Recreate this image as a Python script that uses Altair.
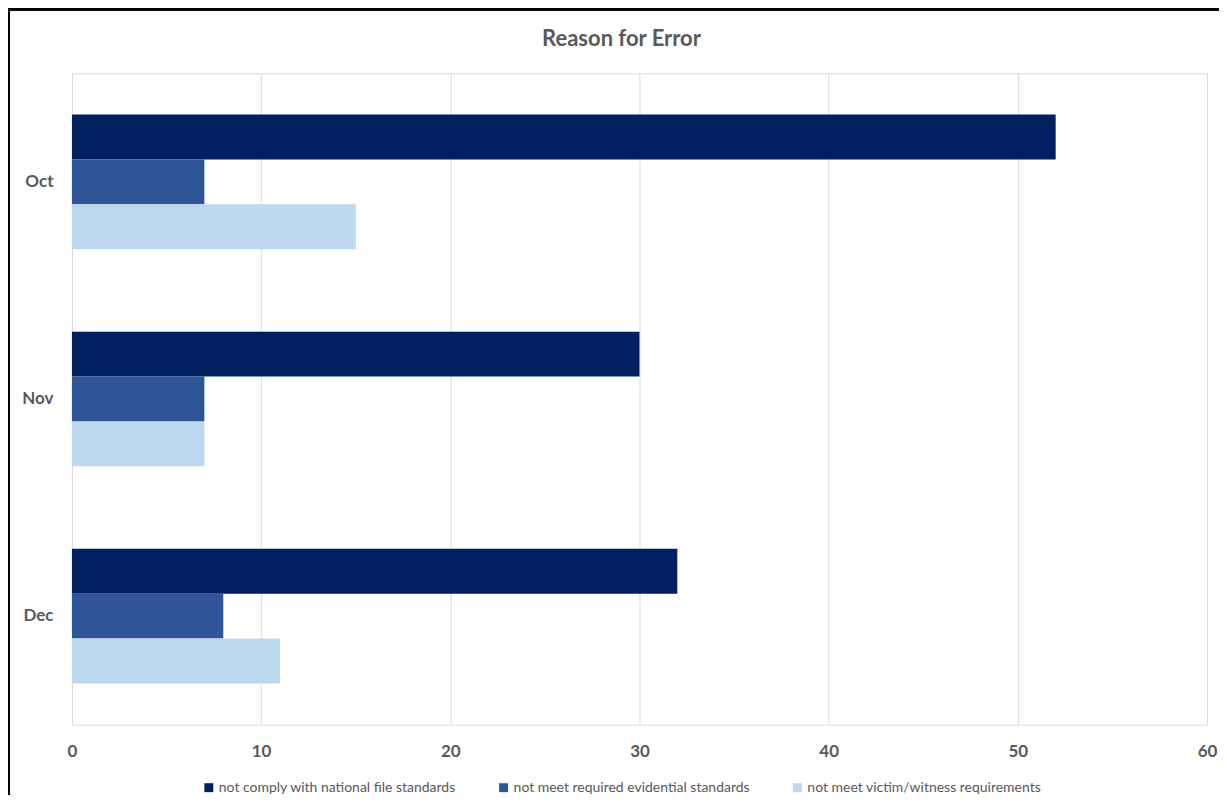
import altair as alt
import pandas as pd

months = ["Oct", "Nov", "Dec"]
series = ["not comply with national file standards",
          "not meet required evidential standards",
          "not meet victim/witness requirements"]
national = [52, 30, 32]
evidential = [7, 7, 8]
victim = [15, 7, 11]
colors = ["#002060", "#2F5597", "#BDD7EE"]

rows = []
for i, m in enumerate(months):
    for s, vals in zip(series, [national, evidential, victim]):
        rows.append({"month": m, "reason": s, "count": vals[i]})
df = pd.DataFrame(rows)

FONT = "Lato"
GREY = "#595959"

bars = alt.Chart(df).mark_bar().encode(
    y=alt.Y("month:N", sort=months, title=None,
            scale=alt.Scale(paddingInner=0.38, paddingOuter=0.19),
            axis=alt.Axis(labelFontSize=17, labelFontWeight="bold", labelColor=GREY,
                          labelFont=FONT, ticks=False, domain=False, labelPadding=19,
                          grid=False)),
    yOffset=alt.YOffset("reason:N", sort=series),
    x=alt.X("count:Q", title=None, scale=alt.Scale(domain=[0, 60], nice=False),
            axis=alt.Axis(values=[0, 10, 20, 30, 40, 50, 60], labelFontSize=17,
                          labelFontWeight="bold", labelColor=GREY, labelFont=FONT,
                          ticks=False, domain=False, labelPadding=19, labelFlush=False,
                          gridColor="#d9d9d9", gridWidth=1)),
    color=alt.Color("reason:N", sort=series,
                    scale=alt.Scale(domain=series, range=colors),
                    legend=alt.Legend(title=None, orient="none", legendX=130, legendY=708,
                                      direction="horizontal", columns=3, columnPadding=40,
                                      symbolType="square", symbolSize=80, symbolStrokeWidth=0,
                                      labelFontSize=14, labelColor=GREY, labelFont=FONT,
                                      labelOffset=3, labelLimit=0)),
)

left_border = alt.Chart(df).mark_rule(color="black", strokeWidth=2).encode(
    x=alt.value(-63), y=alt.value(-65), y2=alt.value(740)
)
top_border = alt.Chart(df).mark_rule(color="black", strokeWidth=2).encode(
    x=alt.value(-64), x2=alt.value(1160), y=alt.value(-64)
)

chart = alt.layer(bars, left_border, top_border).properties(
    width=1136, height=652,
    autosize=alt.AutoSizeParams(type="none"),
    padding={"left": 64, "top": 65, "right": 12, "bottom": 70},
    title=alt.TitleParams("Reason for Error", fontSize=22, fontWeight="bold",
                          color=GREY, font=FONT, offset=-44, dx=-18, anchor="middle"),
).configure_view(stroke=None).configure(background="white")

chart.save("out.html", embed_options={"renderer": "svg", "actions": False})
